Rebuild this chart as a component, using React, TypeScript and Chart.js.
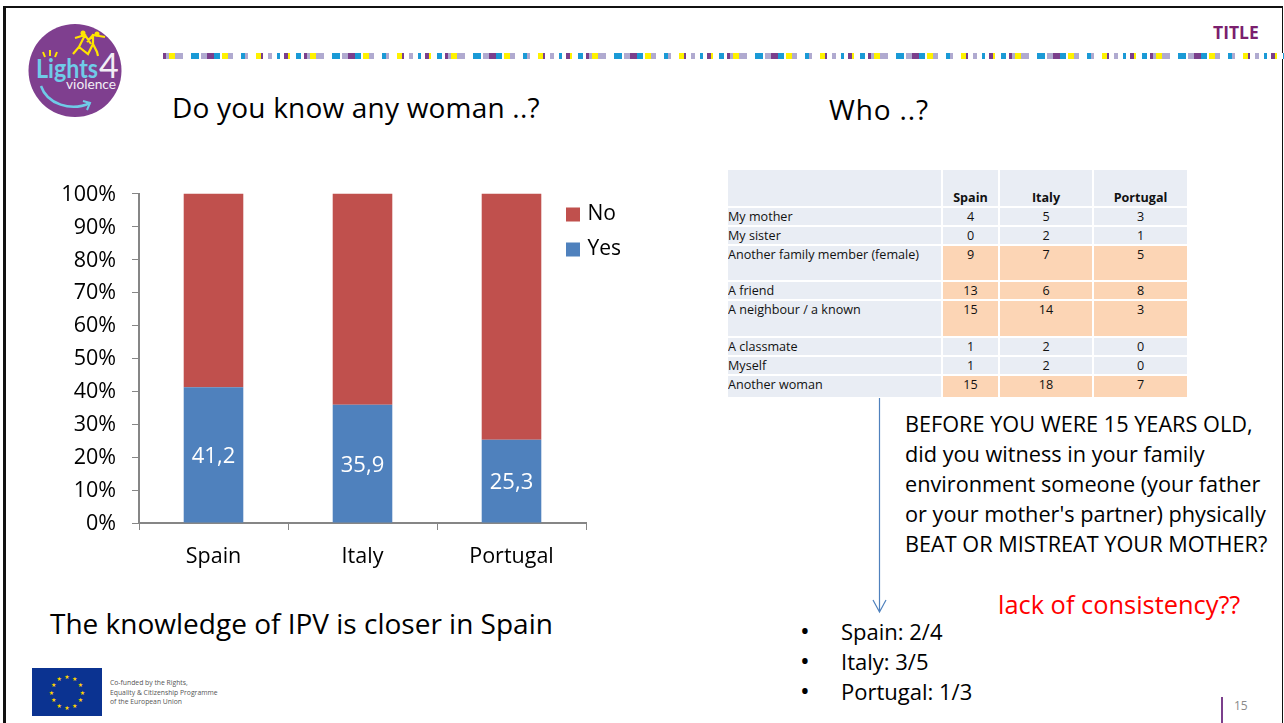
import React, { useEffect, useRef } from "react";
import { Chart, registerables } from "chart.js";

Chart.register(...registerables);

const countries = ["Spain", "Italy", "Portugal"];
const yesValues = [41.2, 35.9, 25.3];
const noValues = [58.8, 64.1, 74.7];
const yesLabels = ["41,2", "35,9", "25,3"];
const percentTicks = [0, 10, 20, 30, 40, 50, 60, 70, 80, 90, 100];

const tableHeader = ["", "Spain", "Italy", "Portugal"];
const rowNames = [
  "My mother",
  "My sister",
  "Another family member (female)",
  "A friend",
  "A neighbour / a known",
  "A classmate",
  "Myself",
  "Another woman",
];
const spainCounts = [4, 0, 9, 13, 15, 1, 1, 15];
const italyCounts = [5, 2, 7, 6, 14, 2, 2, 18];
const portugalCounts = [3, 1, 5, 8, 3, 0, 0, 7];
const highlightedRows = [2, 3, 4, 7];

const questionLines = [
  "BEFORE YOU WERE 15 YEARS OLD,",
  "did you witness in your family",
  "environment someone (your father",
  "or your mother's partner) physically",
  "BEAT OR MISTREAT YOUR MOTHER?",
];
const bullets = ["Spain: 2/4", "Italy: 3/5", "Portugal: 1/3"];
const fundingLines = [
  "Co-funded by the Rights,",
  "Equality & Citizenship Programme",
  "of the European Union",
];

const FONT = "Lato, Carlito, sans-serif";
const BODY = "'Open Sans', sans-serif";

const bandRuns: [string, number][] = [
  ["#7b3f8c", 3], ["#b0aad0", 3], ["#fff200", 6], ["#b0aad0", 8], ["#fff", 8],
  ["#1a9ad6", 8], ["#fff", 2], ["#b0aad0", 6], ["#7b3f8c", 7], ["#1a9ad6", 6], ["#fff", 2],
  ["#fff200", 6], ["#b0aad0", 5], ["#fff", 8], ["#1a9ad6", 4], ["#b0aad0", 3], ["#fff", 8],
  ["#fff200", 5], ["#7b3f8c", 2], ["#fff", 5], ["#b0aad0", 4], ["#fff", 5], ["#1a9ad6", 3],
  ["#fff", 4], ["#7b3f8c", 4], ["#fff200", 2], ["#fff", 6], ["#1a9ad6", 5], ["#fff", 3],
];

function bandGradient() {
  let x = 0;
  const stops: string[] = [];
  for (const [c, w] of bandRuns) {
    stops.push(`${c} ${x}px ${x + w}px`);
    x += w;
  }
  return `repeating-linear-gradient(90deg, ${stops.join(", ")})`;
}

const yesLabelPlugin = {
  id: "yesLabels",
  afterDatasetsDraw(chart: any) {
    const { ctx } = chart;
    const meta = chart.getDatasetMeta(0);
    ctx.save();
    ctx.fillStyle = "#ffffff";
    ctx.font = `22px ${BODY}`;
    ctx.textAlign = "center";
    ctx.textBaseline = "middle";
    meta.data.forEach((bar: any, i: number) => {
      ctx.fillText(yesLabels[i], bar.x, (bar.y + bar.base) / 2 + 2);
    });
    ctx.restore();
  },
};

const legendPlacer = {
  id: "legendPlacer",
  afterLayout(chart: any) {
    const l = chart.legend;
    const w = l.right - l.left;
    const h = l.bottom - l.top;
    l.left = 555;
    l.right = 555 + w;
    l.top = 190;
    l.bottom = 190 + h;
  },
};

function Text({ x, y, size, color = "#000", weight = 400, font = BODY, spacing = 0, children }: any) {
  return (
    <div
      style={{
        position: "absolute",
        left: x,
        top: y,
        transform: "translateY(-50%)",
        fontFamily: font,
        fontSize: size,
        fontWeight: weight,
        letterSpacing: spacing,
        color,
        whiteSpace: "pre",
        lineHeight: 1.2,
      }}
    >
      {children}
    </div>
  );
}

const rowHeights = [36, 17, 17, 34, 17, 35, 17, 17, 21];

function SurveyTable() {
  const cell = (bg: string, extra: any, text: any, key: string) => (
    <div key={key} style={{ background: bg, overflow: "hidden", whiteSpace: "nowrap", ...extra }}>
      {text}
    </div>
  );
  const blue = "#e9edf4";
  const orange = "#fcd5b5";
  return (
    <div
      style={{
        position: "absolute",
        left: 728,
        top: 170,
        display: "grid",
        gridTemplateColumns: "213px 55px 92px 93px",
        gridTemplateRows: rowHeights.map((h) => h + "px").join(" "),
        gap: 2,
        fontFamily: BODY,
        fontSize: 12.6,
        lineHeight: "17px",
        color: "#111",
      }}
    >
      {tableHeader.map((h, i) =>
        cell(blue, { fontWeight: 700, textAlign: "center", display: "flex", alignItems: "flex-end", justifyContent: "center", paddingBottom: 0 }, h, "h" + i)
      )}
      {rowNames.map((name, r) => {
        const bg = highlightedRows.includes(r) ? orange : blue;
        return [
          cell(blue, {}, name, "n" + r),
          cell(bg, { textAlign: "center" }, spainCounts[r], "s" + r),
          cell(bg, { textAlign: "center" }, italyCounts[r], "i" + r),
          cell(bg, { textAlign: "center" }, portugalCounts[r], "p" + r),
        ];
      })}
    </div>
  );
}

function Logo() {
  return (
    <svg style={{ position: "absolute", left: 25, top: 20 }} width={100} height={102} viewBox="0 0 100 102">
      <circle cx="50" cy="50.5" r="46.5" fill="#7f3f8f" />
      <text x="11" y="58" fontFamily={FONT} fontSize="26" fontWeight="700" fill="#6fcbe8" textLength="62" lengthAdjust="spacingAndGlyphs">Lights</text>
      <text x="74" y="58" fontFamily={FONT} fontSize="34" fill="#f2eef5">4</text>
      <text x="41" y="69" fontFamily={FONT} fontSize="14" fill="#f2eef5" textLength="50" lengthAdjust="spacingAndGlyphs">violence</text>
      <path d="M16 66 C22 84 46 92 65 83" fill="none" stroke="#6fcbe8" strokeWidth="2.5" />
      <path d="M58 81 L65 83 L62 90" fill="none" stroke="#6fcbe8" strokeWidth="2" />
      <path d="M48 34 L54 27 L60 15 L56 13 M60 15 L50 18 M54 27 L63 34 L68 24 L68 15 L80 17 M68 15 L62 22 M68 24 L72 32 L73 36 M60 15 L66 24" stroke="#ffe400" strokeWidth="2.2" fill="none" />
      <circle cx="58" cy="13" r="2.5" fill="#ffe400" />
      <circle cx="72" cy="14" r="2.5" fill="#ffe400" />
      <path d="M20 37 L18 32 M25 36 L25 30 M30 37 L32 32" stroke="#ffe400" strokeWidth="2" />
    </svg>
  );
}

function EuFlag() {
  const stars = Array.from({ length: 12 }, (_, i) => i);
  return (
    <svg style={{ position: "absolute", left: 32, top: 668 }} width={70} height={48} viewBox="0 0 70 48">
      <rect width="70" height="48" fill="#0b3391" />
      {stars.map((i) => (
        <text
          key={i}
          x={35 + 15.5 * Math.sin((i * Math.PI) / 6)}
          y={26.5 - 15.5 * Math.cos((i * Math.PI) / 6)}
          fontSize="6"
          textAnchor="middle"
          fill="#ffd400"
          fontFamily="DejaVu Sans"
        >
          ★
        </text>
      ))}
    </svg>
  );
}

export default function App() {
  const ref = useRef<HTMLCanvasElement>(null);

  useEffect(() => {
    document.body.style.margin = "0";
    const chart = new Chart(ref.current as HTMLCanvasElement, {
      type: "bar",
      data: {
        labels: countries,
        datasets: [
          { label: "Yes", data: yesValues, backgroundColor: "#4f81bd", stack: "a", barPercentage: 0.4, categoryPercentage: 1 },
          { label: "No", data: noValues, backgroundColor: "#c0504d", stack: "a", barPercentage: 0.4, categoryPercentage: 1 },
        ],
      },
      options: {
        animation: false,
        responsive: false,
        layout: { padding: { left: 0, top: 193.5, right: 54, bottom: 0 } },
        plugins: {
          title: { display: false },
          tooltip: { enabled: false },
          legend: {
            display: true,
            position: "chartArea",
            align: "start",
            reverse: true,
            labels: {
              usePointStyle: true,
              pointStyle: "rect",
              boxWidth: 8,
              boxHeight: 14,
              padding: 14,
              color: "#000",
              font: { family: BODY, size: 21 },
            },
          },
        },
        scales: {
          x: {
            stacked: true,
            grid: { display: true, drawOnChartArea: false, drawTicks: true, tickLength: 7, color: "#868686" },
            border: { display: true, color: "#868686", width: 2 },
            ticks: { color: "#000", padding: 14, font: { family: BODY, size: 21.5 }, maxRotation: 0 },
            afterFit: (s: any) => { s.height = 77; },
          },
          y: {
            stacked: true,
            min: 0,
            max: 100,
            afterBuildTicks: (s: any) => { s.ticks = percentTicks.map((value) => ({ value })); },
            grid: { display: true, drawOnChartArea: false, drawTicks: true, tickLength: 7, color: "#868686" },
            border: { display: true, color: "#868686", width: 2 },
            ticks: {
              color: "#000",
              padding: 16,
              labelOffset: 1,
              font: { family: BODY, size: 21.5 },
              callback: (v: any) => v + "%",
            },
            afterFit: (s: any) => { s.width = 139; },
          },
        },
      },
      plugins: [yesLabelPlugin, legendPlacer],
    } as any);
    return () => chart.destroy();
  }, []);

  return (
    <div style={{ position: "absolute", left: 0, top: 0, width: 1284, height: 723, overflow: "hidden", background: "#fff" }}>
      <div style={{ position: "absolute", left: 3, top: 6, right: 1, height: 760, border: "solid #111", borderWidth: "2px 1px 0 3px" }} />
      <Logo />
      <div style={{ position: "absolute", left: 163, top: 53, width: 1121, height: 6, background: bandGradient() }} />
      <Text x={1213} y={32} size={17.5} weight={700} color="#7b1f6e" font={BODY}>TITLE</Text>
      <Text x={172} y={108} size={28} spacing={0.2}>Do you know any woman ..?</Text>
      <Text x={829} y={110} size={28} spacing={0.85}>Who ..?</Text>
      <canvas ref={ref} width={640} height={600} style={{ position: "absolute", left: 0, top: 0 }} />
      <Text x={50} y={624} size={28}>The knowledge of IPV is closer in Spain</Text>
      <SurveyTable />
      <svg style={{ position: "absolute", left: 860, top: 395 }} width={40} height={225}>
        <path d="M19.5 3 V217 M13 205 L19.5 217 L26 205" fill="none" stroke="#4f81bd" strokeWidth="1.2" />
      </svg>
      {questionLines.map((l, i) => (
        <Text key={l} x={905} y={424 + i * 30} size={21.7}>{l}</Text>
      ))}
      <Text x={998} y={604} size={25.4} color="#ff0000">lack of consistency??</Text>
      {bullets.map((b, i) => (
        <React.Fragment key={b}>
          <Text x={800} y={631 + i * 30} size={26}>•</Text>
          <Text x={841} y={631 + i * 30} size={22}>{b}</Text>
        </React.Fragment>
      ))}
      <EuFlag />
      {fundingLines.map((l, i) => (
        <Text key={l} x={110} y={683 + i * 9.5} size={6.8} color="#555">{l}</Text>
      ))}
      <div style={{ position: "absolute", left: 1221, top: 697, width: 2, height: 26, background: "#7b3f8c" }} />
      <Text x={1234} y={706} size={12} color="#8a8a8a">15</Text>
    </div>
  );
}
